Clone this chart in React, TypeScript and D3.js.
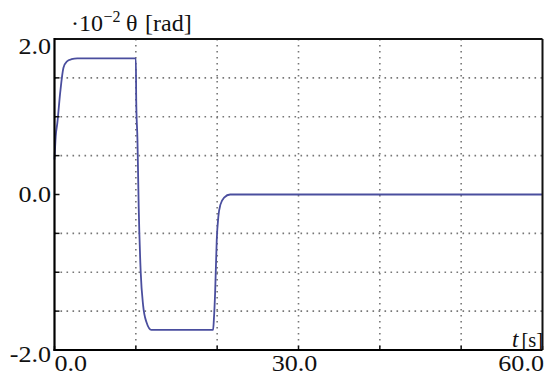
import React from "react";
import * as d3 from "d3";

const timeS = [0, 0.15, 0.35, 0.7, 1.1, 1.5, 2.1, 2.8, 10.0, 10.05, 10.2, 10.35, 10.6, 10.9, 11.3, 11.9, 12.6, 19.5, 19.6, 19.75, 19.95, 20.15, 20.4, 20.85, 21.6, 60];
const theta = [0.45, 0.75, 0.92, 1.31, 1.63, 1.71, 1.74, 1.75, 1.75, 1.2, 0.7, -0.15, -1.0, -1.43, -1.64, -1.74, -1.74, -1.74, -1.6, -1.26, -0.58, -0.28, -0.13, -0.04, 0, 0];

const xGrid = [10, 20, 30, 40, 50];
const yGrid = [-1.5, -1.0, -0.5, 0.5, 1.0, 1.5];
const yTicks = [-2.0, -1.5, -1.0, -0.5, 0.0, 0.5, 1.0, 1.5, 2.0];
const xTicks = [0, 10, 20, 30, 40, 50, 60];
const yLabels = ["2.0", "0.0", "-2.0"];
const yLabelVals = [2.0, 0.0, -2.0];
const xLabels = ["0.0", "30.0", "60.0"];
const xLabelVals = [0, 30, 60];

const W = 545, H = 375;
const L = 54.5, R = 542.5, T = 39, B = 350;
const SX = 1.16;
const FONT = "Liberation Serif, Times New Roman, Times, serif";

export default function App() {
  const x = d3.scaleLinear().domain([0, 60]).range([L, R]);
  const y = d3.scaleLinear().domain([-2, 2]).range([B, T]);
  const line = d3.line<number>()
    .x((_, i) => x(timeS[i]))
    .y((d) => y(d))
    .curve(d3.curveMonotoneX);

  const yDy = [14.5, 7.5, 12];
  const xAnchor = ["start", "middle", "end"];
  const xDx = [0, -4, 1.5];

  const stretched = (tx: number, ty: number, anchor: string, txt: string, size = 22.5) => (
    <g transform={`translate(${tx},${ty}) scale(${SX},1)`}>
      <text x={0} y={0} textAnchor={anchor} fontFamily={FONT} fontSize={size} fill="#111">{txt}</text>
    </g>
  );

  return (
    <svg width={W} height={H} style={{ position: "absolute", left: 0, top: 0, background: "#fff" }}>
      {/* grid */}
      {xGrid.map((v) => (
        <line key={"gx" + v} x1={x(v)} x2={x(v)} y1={T} y2={B} stroke="#777" strokeWidth={1.6} strokeDasharray="1.6 4.4" />
      ))}
      {yGrid.map((v) => (
        <line key={"gy" + v} x1={L} x2={R} y1={y(v)} y2={y(v)} stroke="#777" strokeWidth={1.6} strokeDasharray="1.6 4.4" />
      ))}
      {/* data line */}
      <path d={line(theta) || ""} fill="none" stroke="#4a4e9e" strokeWidth={1.8} />
      {/* ticks */}
      {yTicks.map((v) => (
        <line key={"ty" + v} x1={L} x2={L + 5} y1={y(v)} y2={y(v)} stroke="#111" strokeWidth={1.5} />
      ))}
      {xTicks.map((v) => (
        <line key={"tx" + v} x1={x(v)} x2={x(v)} y1={B} y2={B - 4} stroke="#111" strokeWidth={1.5} />
      ))}
      {/* frame */}
      <line x1={L} x2={R} y1={T} y2={T} stroke="#111" strokeWidth={2} />
      <line x1={R} x2={R} y1={T} y2={B} stroke="#111" strokeWidth={2} />
      <line x1={L} x2={L} y1={T - 1} y2={B + 1} stroke="#000" strokeWidth={2.2} />
      <line x1={L - 1} x2={R} y1={B} y2={B} stroke="#000" strokeWidth={2.2} />
      {/* t [s] label */}
      <rect x={509} y={326} width={32} height={23} fill="#fff" />
      <text y={347} fontFamily={FONT} fill="#111">
        <tspan x={512} fontStyle="italic" fontSize={23}>t</tspan>
        <tspan x={521.5} fontSize={20.5}>[s]</tspan>
      </text>
      {/* y labels */}
      {yLabelVals.map((v, i) => (
        <React.Fragment key={"yl" + i}>{stretched(51, y(v) + yDy[i], "end", yLabels[i])}</React.Fragment>
      ))}
      {/* x labels */}
      {xLabelVals.map((v, i) => (
        <React.Fragment key={"xl" + i}>{stretched(x(v) + xDx[i], 370.5, xAnchor[i], xLabels[i])}</React.Fragment>
      ))}
      {/* title */}
      <text y={31} fontFamily={FONT} fontSize={24} fill="#111">
        <tspan x={71}>·</tspan>
        <tspan x={79}>10</tspan>
        <tspan x={103.5} y={22} fontSize={16}>−2</tspan>
        <tspan x={126} y={31}>θ</tspan>
        <tspan x={145}>[rad]</tspan>
      </text>
    </svg>
  );
}
